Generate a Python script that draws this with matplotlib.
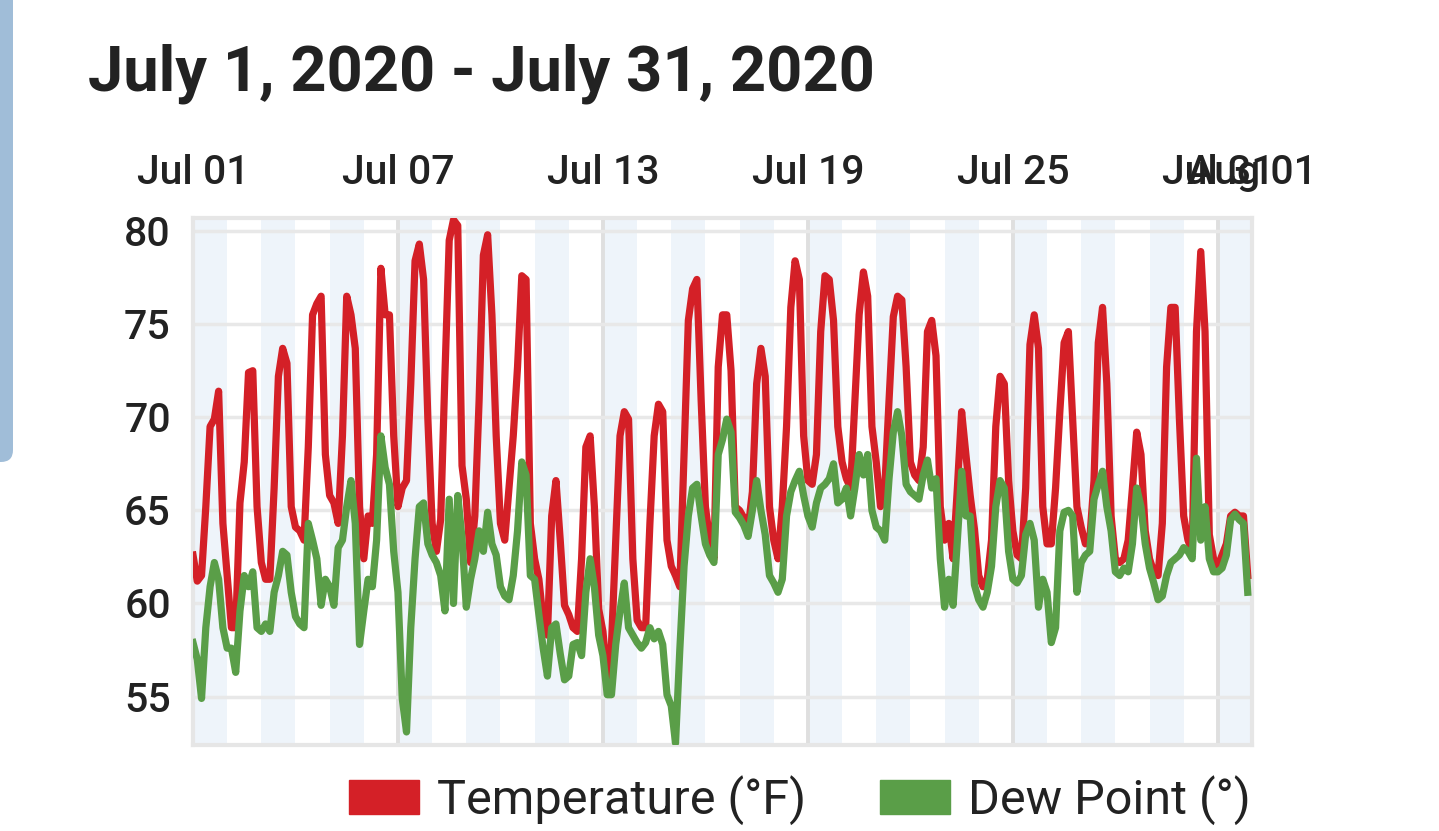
import matplotlib
matplotlib.use("Agg")
import matplotlib.pyplot as plt
import matplotlib.dates as mdates
from matplotlib.patches import FancyBboxPatch, Patch
from matplotlib.transforms import IdentityTransform
import numpy as np
import pandas as pd

plt.rcParams["font.family"] = ["Roboto", "DejaVu Sans"]

# 3-hourly readings, July 1 00:00 onwards
temperature = [
    62.6, 61.2, 61.5, 65.2, 69.5, 69.9, 71.4, 64.3,
    61.5, 58.7, 58.7, 65.4, 67.6, 72.4, 72.5, 65.2,
    62.2, 61.3, 61.3, 66.2, 72.2, 73.7, 72.9, 65.2,
    64.1, 63.9, 63.4, 68.4, 75.5, 76.1, 76.5, 68.0,
    65.8, 65.4, 64.3, 69.0, 76.5, 75.5, 73.7, 65.2,
    62.4, 64.7, 64.3, 68.0, 78.0, 75.5, 75.5, 69.0,
    65.2, 66.2, 66.6, 71.8, 78.4, 79.3, 77.4, 69.9,
    64.3, 62.8, 64.5, 72.3, 79.5, 80.6, 80.3, 67.4,
    65.6, 62.2, 64.7, 70.9, 78.7, 79.8, 75.5, 69.0,
    64.3, 63.4, 66.2, 69.0, 72.7, 77.6, 77.4, 64.3,
    62.4, 61.3, 59.1, 58.3, 64.7, 66.6, 63.4, 59.9,
    59.4, 58.7, 58.5, 62.4, 68.4, 69.0, 65.2, 59.7,
    58.5, 56.0, 57.8, 63.4, 69.0, 70.3, 69.9, 62.4,
    59.1, 58.7, 58.7, 64.3, 69.0, 70.7, 70.3, 63.4,
    62.0, 61.5, 60.9, 68.0, 75.2, 76.9, 77.4, 70.9,
    65.2, 63.4, 62.4, 72.7, 75.5, 75.5, 72.5, 65.2,
    65.0, 64.6, 64.0, 66.0, 71.8, 73.7, 72.2, 65.2,
    63.4, 62.4, 65.2, 69.5, 75.9, 78.4, 77.4, 69.0,
    66.6, 66.4, 68.0, 74.6, 77.6, 77.4, 75.2, 69.5,
    67.6, 66.7, 66.2, 70.9, 75.5, 77.8, 76.5, 69.5,
    67.6, 65.2, 66.2, 70.9, 75.4, 76.5, 76.3, 72.7,
    67.6, 66.9, 66.6, 68.4, 74.6, 75.2, 73.3, 65.2,
    63.4, 64.3, 62.4, 66.2, 70.3, 68.0, 65.8, 64.0,
    61.5, 60.9, 61.3, 63.4, 69.5, 72.2, 71.8, 66.6,
    63.9, 62.6, 62.4, 66.2, 73.9, 75.5, 73.7, 65.2,
    63.2, 63.2, 66.2, 70.3, 74.0, 74.6, 69.9, 65.2,
    64.1, 63.2, 63.4, 66.6, 74.0, 75.9, 71.8, 64.7,
    62.4, 62.2, 62.4, 63.4, 66.2, 69.2, 68.0, 63.9,
    62.4, 61.7, 61.5, 64.3, 72.7, 75.9, 75.9, 69.9,
    64.7, 63.4, 62.8, 74.6, 78.9, 74.6, 63.7, 62.4,
    62.0, 62.6, 63.2, 64.7, 64.9, 64.7, 64.7, 61.5,
]

dew_point = [
    57.9, 57.0, 54.9, 58.7, 60.9, 62.2, 61.3, 58.7,
    57.6, 57.6, 56.3, 59.6, 61.5, 60.9, 61.7, 58.7,
    58.5, 58.9, 58.5, 60.6, 61.5, 62.8, 62.6, 60.6,
    59.3, 58.9, 58.7, 64.3, 63.4, 62.4, 59.9, 61.3,
    60.9, 59.9, 63.0, 63.4, 65.2, 66.6, 64.3, 57.8,
    59.6, 61.3, 60.9, 63.4, 69.0, 67.3, 66.4, 62.8,
    60.6, 54.9, 53.1, 58.7, 62.4, 65.2, 65.4, 63.2,
    62.6, 62.2, 61.5, 59.6, 65.6, 60.0, 65.8, 63.5,
    59.8, 61.3, 62.4, 63.9, 62.8, 64.9, 63.2, 62.6,
    60.9, 60.4, 60.2, 61.5, 63.9, 67.6, 66.9, 61.5,
    61.3, 59.4, 57.6, 56.1, 58.7, 58.9, 57.3, 55.9,
    56.1, 57.8, 57.9, 57.2, 60.6, 62.4, 60.9, 58.3,
    57.2, 55.1, 55.1, 57.8, 59.6, 61.1, 58.7, 58.3,
    57.9, 57.6, 57.9, 58.7, 58.1, 58.5, 57.8, 55.1,
    54.5, 52.5, 57.5, 62.0, 64.7, 66.2, 66.4, 64.7,
    63.2, 62.6, 62.2, 68.0, 68.8, 69.9, 69.2, 64.9,
    64.6, 64.2, 63.6, 65.0, 66.6, 65.0, 63.7, 61.5,
    61.1, 60.6, 61.3, 64.7, 66.0, 66.6, 67.1, 65.8,
    64.7, 64.1, 65.4, 66.2, 66.4, 66.7, 67.5, 65.4,
    65.6, 66.2, 64.7, 66.2, 68.0, 66.9, 68.0, 65.0,
    64.1, 63.9, 63.4, 66.7, 69.2, 70.3, 69.0, 66.4,
    66.0, 65.8, 65.6, 66.9, 67.7, 66.2, 66.7, 62.4,
    59.8, 61.3, 59.9, 63.4, 67.1, 64.7, 64.7, 61.0,
    60.2, 59.8, 60.6, 62.0, 65.2, 66.6, 66.2, 62.8,
    61.3, 61.1, 61.5, 63.7, 64.3, 63.4, 59.8, 61.3,
    60.6, 57.9, 58.7, 63.9, 64.9, 65.0, 64.7, 60.6,
    62.2, 62.6, 62.8, 65.6, 66.4, 67.1, 65.2, 63.9,
    61.7, 61.5, 61.9, 61.7, 63.2, 66.2, 65.2, 63.2,
    61.9, 61.1, 60.2, 60.4, 61.5, 62.2, 62.4, 62.6,
    63.0, 62.8, 62.4, 67.8, 63.4, 65.2, 62.4, 61.7,
    61.7, 61.9, 62.6, 64.5, 64.8, 64.5, 64.3, 60.6,
]

times = pd.date_range("2020-07-01", periods=len(temperature), freq="3h")
tick_dates = pd.to_datetime(["2020-07-01", "2020-07-07", "2020-07-13", "2020-07-19",
                             "2020-07-25", "2020-07-31", "2020-08-01"])
y_ticks = [55, 60, 65, 70, 75, 80]

RED = "#d42027"
GREEN = "#5a9e48"
TEXT = "#222222"

W, H = 1439, 831
fig = plt.figure(figsize=(W / 100, H / 100), dpi=100)
ax = fig.add_axes([193 / W, 1 - 745 / H, (1252 - 193) / W, (745 - 218) / H])

# alternating day bands
for day in pd.date_range("2020-07-01", "2020-07-31", freq="2D"):
    ax.axvspan(day, day + pd.Timedelta(days=1), color="#eef4fa", zorder=0, lw=0)

ax.plot(times, temperature, color=RED, lw=5.2, zorder=3)
ax.plot(times, dew_point, color=GREEN, lw=5.2, zorder=4)

ax.set_xlim(pd.Timestamp("2020-07-01"), pd.Timestamp("2020-08-01"))
ax.set_ylim(52.4, 80.7)

ax.set_yticks(y_ticks)
ax.set_xticks(tick_dates)
ax.xaxis.set_major_formatter(mdates.DateFormatter("%b %d"))
ax.xaxis.tick_top()
ax.tick_params(axis="x", length=0, pad=19, labelsize=29.5, labelcolor=TEXT)
ax.tick_params(axis="y", length=0, pad=16, labelsize=29.5, labelcolor=TEXT)
for lab in ax.get_xticklabels() + ax.get_yticklabels():
    lab.set_fontweight(500)

ax.grid(axis="y", color="#e8e8e8", lw=2.5, zorder=1)
ax.grid(axis="x", color="#dfdfdf", lw=2.8, zorder=1)
ax.set_axisbelow(True)
for sp in ax.spines.values():
    sp.set_color("#e6e6e6")
    sp.set_linewidth(3)

fig.text(88 / W, 1 - 90 / H, "July 1, 2020 - July 31, 2020", fontsize=45.5,
         fontweight="bold", color=TEXT, va="baseline", ha="left")

handles = [Patch(color=RED, label="Temperature (°F)"),
           Patch(color=GREEN, label="Dew Point (°)")]
fig.legend(handles=handles, loc="center", bbox_to_anchor=(800 / W, 1 - 800 / H),
           ncol=2, frameon=False, fontsize=35, handlelength=1.44, handleheight=0.72,
           handletextpad=0.37, columnspacing=1.53, borderpad=0, labelcolor=TEXT)

# side panel edge at the left of the screenshot
fig.add_artist(FancyBboxPatch((-30, H - 462), 43, 500,
                              boxstyle="round,pad=0,rounding_size=12",
                              transform=IdentityTransform(), color="#a0bdd8", lw=0))

fig.savefig("out.png", dpi=100)
